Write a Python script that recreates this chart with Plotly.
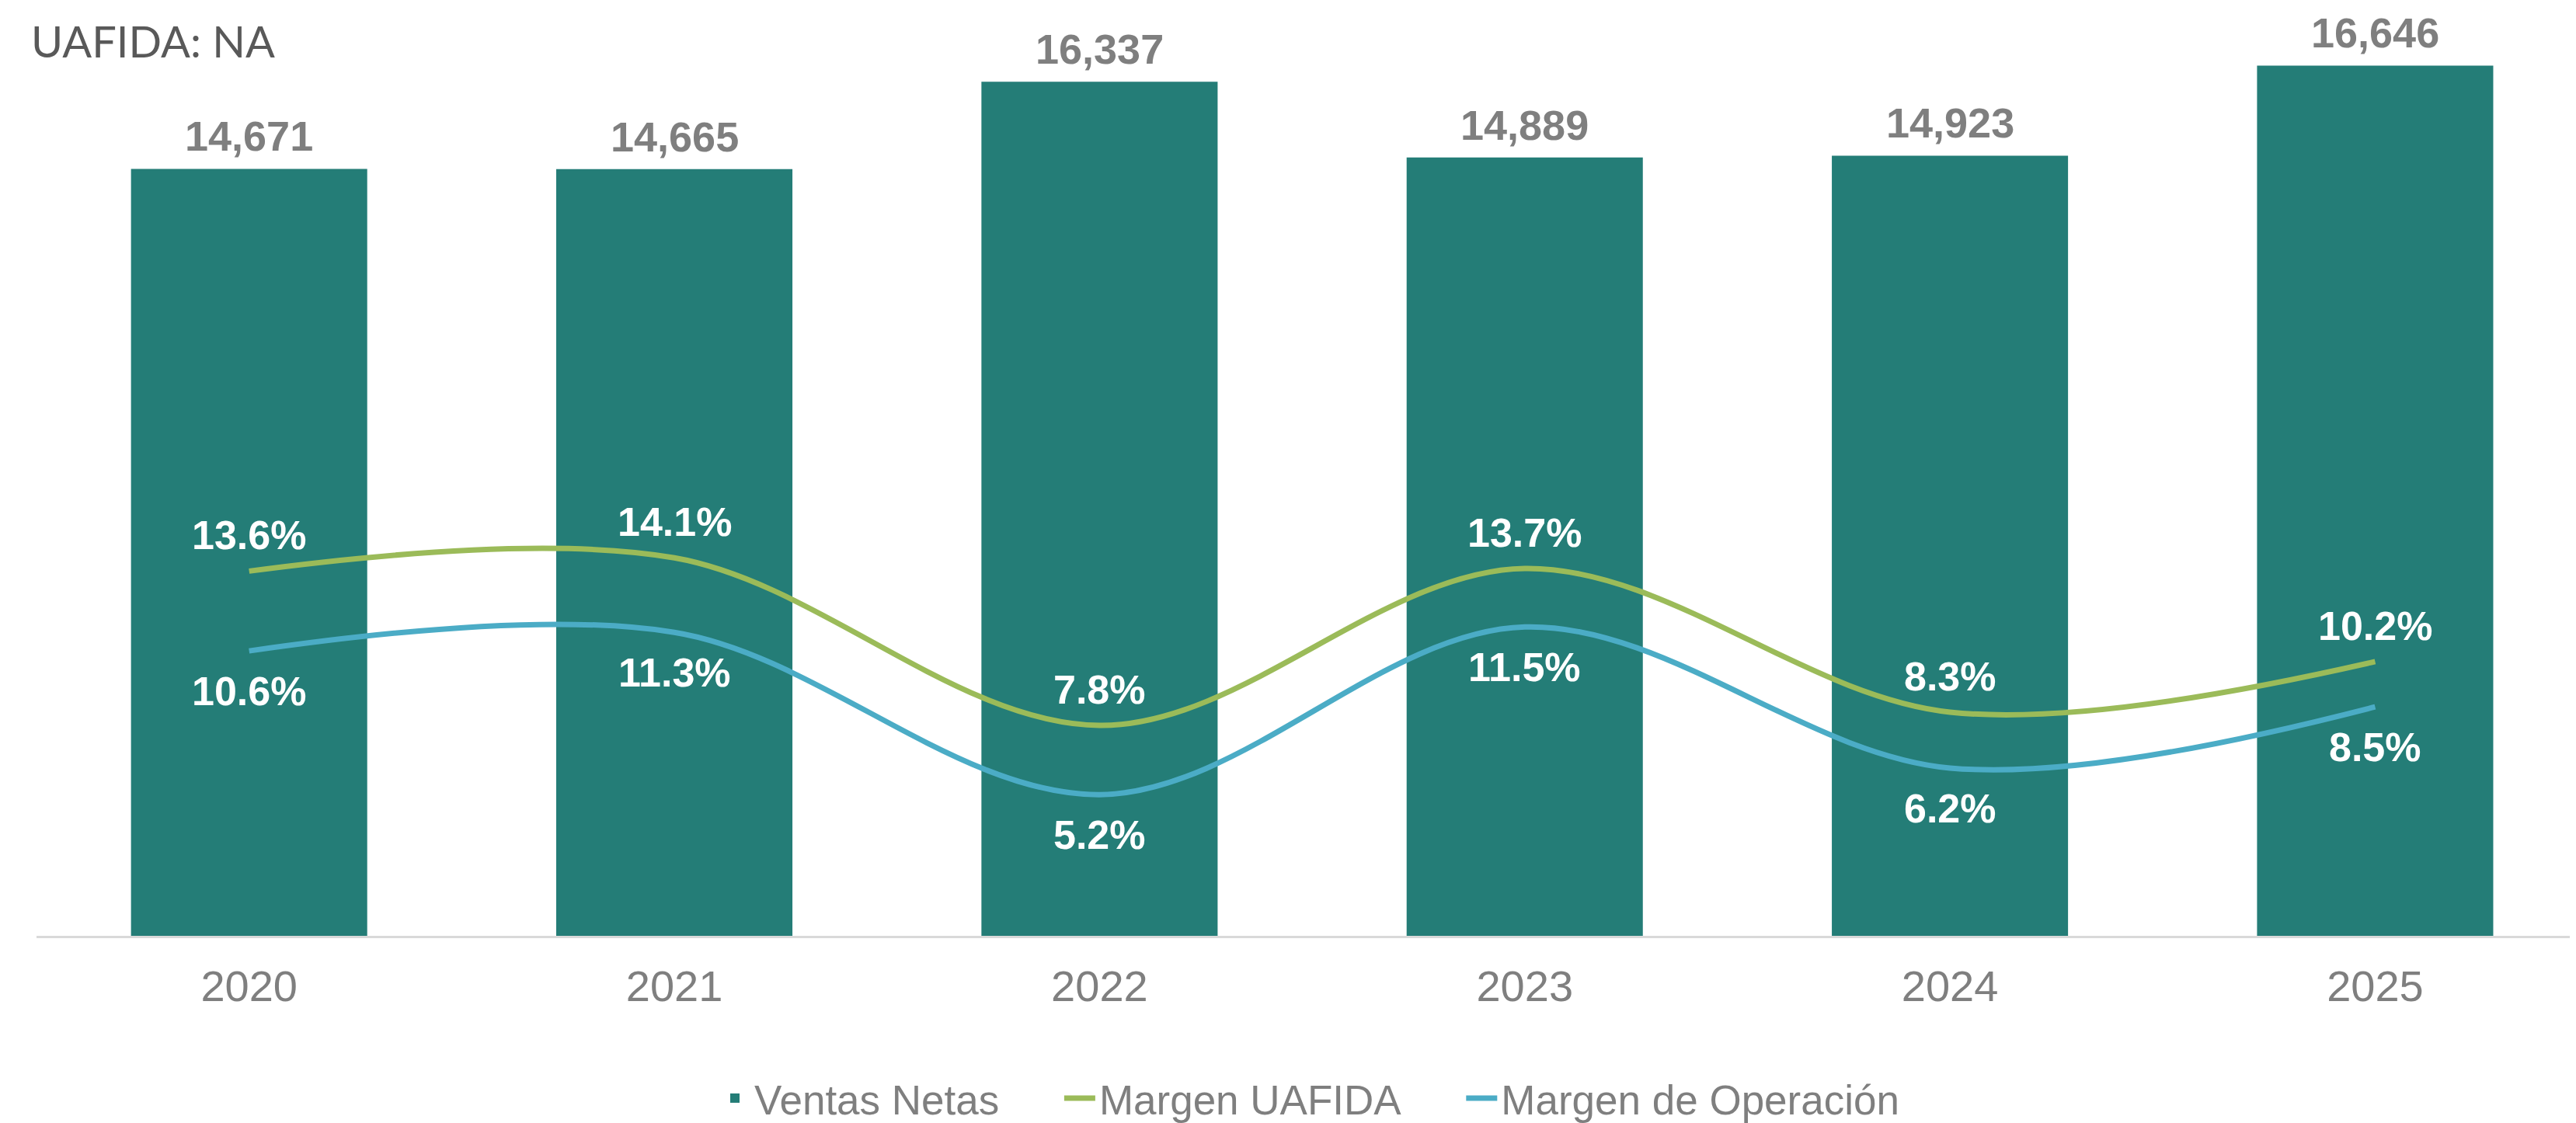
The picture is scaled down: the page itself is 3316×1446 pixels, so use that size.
import plotly.graph_objects as go

years = ["2020", "2021", "2022", "2023", "2024", "2025"]
ventas = [14671, 14665, 16337, 14889, 14923, 16646]
margen_uafida = [13.6, 14.1, 7.8, 13.7, 8.3, 10.2]
margen_oper = [10.6, 11.3, 5.2, 11.5, 6.2, 8.5]

BAR = "#247d77"
GREEN = "#9bbb59"
BLUE = "#4bacc6"
GRAY = "#7f7f7f"
NB = "\u00a0"

fig = go.Figure()

fig.add_trace(go.Bar(
    x=years, y=ventas, name="Ventas Netas" + NB * 5,
    marker=dict(color=BAR, line=dict(width=0)),
))

fig.add_trace(go.Scatter(
    x=years, y=margen_uafida, name="Margen UAFIDA" + NB * 5, yaxis="y2",
    mode="lines", line=dict(color=GREEN, width=7, shape="spline", smoothing=1),
))

fig.add_trace(go.Scatter(
    x=years, y=margen_oper, name="Margen de Operación", yaxis="y2",
    mode="lines", line=dict(color=BLUE, width=7, shape="spline", smoothing=1),
))

# bar value labels
for i, v in enumerate(ventas):
    fig.add_annotation(x=i, y=v, yshift=42, showarrow=False, text=f"{v:,}",
                       font=dict(family="Liberation Sans", size=54, color=GRAY, weight="bold"))

# margin labels: green above, blue below (x given as category index)
lbl_font = dict(family="Liberation Sans", size=52, color="white", weight="bold")
for i, v in enumerate(margen_uafida):
    fig.add_annotation(x=i, y=v, yref="y2", yshift=46, showarrow=False,
                       text=f"{v:.1f}%", font=lbl_font)
for i, v in enumerate(margen_oper):
    fig.add_annotation(x=i, y=v, yref="y2", yshift=-52, showarrow=False,
                       text=f"{v:.1f}%", font=lbl_font)

fig.add_annotation(
    x=0, y=1 + 15 / 1137, xref="paper", yref="paper", showarrow=False,
    text="UAFIDA: NA", xanchor="left", yanchor="middle", xshift=-9,
    font=dict(family="Lato", size=56, color="#595959"),
)

fig.update_layout(
    width=3316, height=1446,
    paper_bgcolor="white", plot_bgcolor="white",
    margin=dict(l=39, r=0, t=60, b=249, autoexpand=False),
    bargap=0.4445,
    font=dict(family="Liberation Sans", color=GRAY),
    xaxis=dict(
        type="category", range=[-0.5, 5.487],
        showgrid=False, showline=True, linecolor="#d9d9d9", linewidth=3,
        ticks="", tickfont=dict(size=56, color=GRAY), ticklabelstandoff=14,
        automargin=False,
    ),
    yaxis=dict(visible=False, range=[0, 16890]),
    yaxis2=dict(visible=False, overlaying="y", range=[-0.108, 33.08]),
    showlegend=True,
    legend=dict(
        orientation="h", x=0.5, xanchor="center", xref="paper",
        y=40 / 1446, yref="container", yanchor="middle",
        font=dict(size=53, color=GRAY), itemwidth=40, tracegroupgap=0,
        traceorder="normal",
    ),
)

fig.write_html("out.html")
